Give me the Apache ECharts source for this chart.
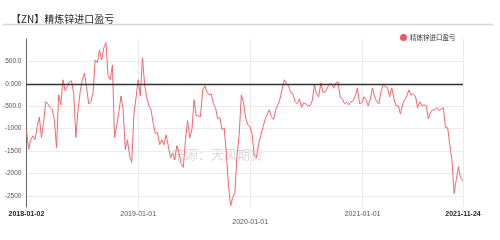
<!DOCTYPE html>
<html><head><meta charset="utf-8">
<script src="https://cdn.jsdelivr.net/npm/echarts@6/dist/echarts.min.js"></script>
<style>html,body{margin:0;padding:0;background:#fff}#c{width:500px;height:240px}</style>
</head><body><div id="c"></div>
<script>
const chartTitle = '【ZN】精炼锌进口盈亏';
const seriesName = '精炼锌进口盈亏';
const sourceNote = '来源：天风期货';
const startDate = [2018, 1, 2];
const endDate = [2021, 11, 24];
const stepDays = 7;
const xTickDates = ['2018-01-02', '2019-01-01', '2020-01-01', '2021-01-01', '2021-11-24'];
const yTickValues = [-2500, -2000, -1500, -1000, -500, 0, 500];
const yTickLabels = ['-2500', '-2000', '-1500', '-1000', '-500.0', '0.000', '500.0'];
const weeklyValues = [
 -1030,-1460,-1250,-1160,-1250,-960,-740,-1200,-860,-400,
 -450,-530,-580,-800,-1420,-245,-470,90,-155,-65,
 45,65,-225,-1200,-580,-180,90,240,-90,-450,
 -400,-200,535,470,760,535,800,920,180,90,
 420,-1200,-935,-640,-270,-580,-1470,-1250,-1605,-1755,
 -690,-310,90,-270,580,-20,-310,-490,-580,-890,
 -1115,-1085,-1360,-1250,-1360,-1140,-1380,-1650,-1540,-1695,
 -1380,-1540,-1785,-1865,-1250,-825,-1205,-1025,-355,-715,
 -715,-735,-135,-45,-180,-245,-230,-445,-535,-780,
 -760,-1025,-980,-1540,-2250,-2720,-2540,-2425,-1585,-1140,
 -245,-415,-760,-915,-960,-1115,-1605,-1650,-1360,-1160,
 -980,-800,-690,-580,-735,-800,-580,-470,-335,-120,
 90,0,-45,-200,-225,-400,-445,-335,-530,-425,
 -445,-490,-490,-380,-20,-225,-290,20,-195,-180,
 -90,-5,0,-100,20,45,-305,-335,-445,-410,
 -470,-400,-380,-270,-90,-445,-425,-290,-355,-490,
 -355,-90,-290,-400,-445,-180,-20,-65,-80,-290,
 -90,-335,-490,-490,-670,-470,-355,-270,-135,-255,
 -225,-270,-535,-400,-490,-470,-490,-780,-645,-580,
 -580,-530,-600,-555,-535,-980,-980,-1360,-1695,-2450,
 -2140,-1850,-2095,-2165
];

const DAY = 86400000;
const utc = a => Date.UTC(a[0], a[1] - 1, a[2]);
const parseDay = s => { const p = s.split('-').map(Number); return Date.UTC(p[0], p[1] - 1, p[2]); };
const t0 = utc(startDate), t1 = utc(endDate);
const seriesData = weeklyValues.map((v, i) => [Math.min(t0 + i * stepDays * DAY, t1), v]);
const xTickTimes = xTickDates.map(parseDay);

const chart = echarts.init(document.getElementById('c'), null, {renderer: 'canvas'});
chart.setOption({
  animation: false,
  backgroundColor: '#fff',
  textStyle: {fontFamily: 'Liberation Sans, Arial, "Noto Sans CJK SC", sans-serif'},
  title: {
    text: chartTitle, left: 6, top: 9,
    textStyle: {fontSize: 10, fontWeight: 'normal', color: '#222', fontFamily: '"Noto Sans CJK SC", sans-serif'}
  },
  legend: {
    data: [seriesName], left: 395, top: 29, icon: 'circle', itemWidth: 7, itemHeight: 7, itemGap: 4,
    textStyle: {fontSize: 6.5, color: '#333', padding: [0, 0, 0, -2], fontFamily: '"Noto Sans CJK SC", sans-serif'}
  },
  graphic: [
    {type: 'line', silent: true, z: 100, shape: {x1: 3, y1: 24.5, x2: 493, y2: 24.5}, style: {stroke: '#d6d6d6', lineWidth: 1.5}},
    {type: 'text', silent: true, z: -1, left: 172, top: 148,
     style: {text: sourceNote, fontSize: 13, fill: 'rgba(150,150,150,0.35)', fontFamily: '"Noto Sans CJK SC", sans-serif'}}
  ],
  grid: {left: 26, right: 37, top: 39, bottom: 33, containLabel: false},
  xAxis: {
    type: 'value', min: t0, max: t1, scale: true,
    axisLine: {show: false, onZero: false},
    axisTick: {show: false, customValues: xTickTimes},
    splitLine: {show: true, lineStyle: {color: '#ebebeb', width: 1}},
    axisLabel: {
      customValues: xTickTimes, margin: 4, fontSize: 7, color: '#555',
      showMinLabel: true, showMaxLabel: true, hideOverlap: false,
      formatter: function (val) {
        let k = 0, best = Infinity;
        xTickTimes.forEach((t, i) => { const d = Math.abs(t - val); if (d < best) { best = d; k = i; } });
        const s = xTickDates[k];
        if (k === 0 || k === xTickDates.length - 1) return '{b|' + s + '}';
        if (k === 2) return '{low|' + s + '}';
        return s;
      },
      rich: {
        b: {fontWeight: 'bold', color: '#222', fontSize: 7},
        low: {padding: [8, 0, 0, 0], fontSize: 7, color: '#555'}
      }
    }
  },
  yAxis: {
    type: 'value', min: -2750, max: 1000,
    axisLine: {show: true, lineStyle: {color: '#666', width: 1}},
    axisTick: {show: false, customValues: yTickValues},
    splitLine: {show: true, lineStyle: {color: '#ececec', width: 1}},
    axisLabel: {
      customValues: yTickValues, margin: 5, fontSize: 6.5, color: '#555',
      formatter: function (v) { const i = yTickValues.indexOf(v); return i >= 0 ? yTickLabels[i] : ''; }
    }
  },
  series: [{
    name: seriesName, type: 'line', data: seriesData, showSymbol: false, symbol: 'circle',
    color: '#f2555f',
    lineStyle: {color: '#f4666f', width: 1},
    markLine: {
      silent: true, symbol: ['none', 'none'], label: {show: false},
      lineStyle: {color: '#333', width: 1.3, type: 'solid'},
      data: [{yAxis: 0}]
    }
  }]
});
</script></body></html>
